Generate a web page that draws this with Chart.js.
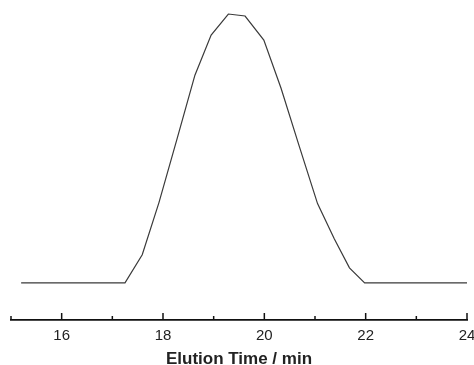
<!DOCTYPE html>
<html>
<head>
<meta charset="utf-8">
<script src="https://cdn.jsdelivr.net/npm/chart.js@4.4.1/dist/chart.umd.min.js"></script>
<style>
  html, body { margin: 0; padding: 0; background: #fff; }
  #wrap { width: 474px; height: 365px; }
</style>
</head>
<body>
<div id="wrap"><canvas id="gpcChart"></canvas></div>
<script>
// elution time (min) and detector signal (arbitrary units)
const elutionTime = [15.2, 17.25, 17.59, 17.92, 18.28, 18.63, 18.95, 19.29, 19.62, 19.99, 20.33, 20.69, 21.05, 21.38, 21.68, 21.98, 24.0];
const signal      = [0,    0,     28,    80,    144,   207,   247,   268,   266,   242,   194,   136,   79,    44,    15,    0,     0];
const tickLabels  = [16, 18, 20, 22, 24];

const X_MIN = 15, X_MAX = 24;

// short upward tick marks on the x axis (inside the plot), like the original figure
const innerTicks = {
    id: 'innerTicks',
    afterDraw(chart) {
        const x = chart.scales.x;
        const ctx = chart.ctx;
        const yBase = x.top;
        ctx.save();
        ctx.strokeStyle = '#111';
        ctx.lineWidth = 1.5;
        for (let v = X_MIN; v <= X_MAX; v++) {
            const px = x.getPixelForValue(v);
            const len = tickLabels.includes(v) ? 7 : 4;
            ctx.beginPath();
            ctx.moveTo(px, yBase);
            ctx.lineTo(px, yBase - len);
            ctx.stroke();
        }
        ctx.restore();
    }
};

const ctx = document.getElementById('gpcChart').getContext('2d');
new Chart(ctx, {
    type: 'line',
    data: {
        datasets: [{
            label: 'GPC trace',
            data: elutionTime.map((t, i) => ({ x: t, y: signal[i] })),
            borderColor: '#3a3a3a',
            borderWidth: 1.2,
            pointRadius: 0,
            tension: 0,
            fill: false
        }]
    },
    options: {
        responsive: true,
        maintainAspectRatio: false,
        animation: false,
        layout: { padding: { left: 11, right: 7, top: 10, bottom: -3 } },
        plugins: {
            legend: { display: false },
            tooltip: { enabled: false }
        },
        scales: {
            x: {
                type: 'linear',
                min: X_MIN,
                max: X_MAX,
                afterFit(scale) { scale.paddingLeft = 0; scale.paddingRight = 0; },
                grid: { display: false, drawTicks: false },
                border: { display: true, color: '#111', width: 1.8 },
                ticks: {
                    stepSize: 1,
                    padding: 8,
                    maxRotation: 0,
                    autoSkip: false,
                    color: '#222',
                    font: { family: 'Liberation Sans, Arial, sans-serif', size: 15, lineHeight: 1 },
                    callback: (v) => tickLabels.includes(v) ? String(v) : ''
                },
                title: {
                    display: true,
                    text: 'Elution Time / min',
                    color: '#222',
                    padding: { top: 0, bottom: 0 },
                    font: { family: 'Liberation Sans, Arial, sans-serif', size: 17, weight: 'bold', lineHeight: 1 }
                }
            },
            y: {
                display: false,
                min: -37,
                max: 272
            }
        }
    },
    plugins: [innerTicks]
});
</script>
</body>
</html>
